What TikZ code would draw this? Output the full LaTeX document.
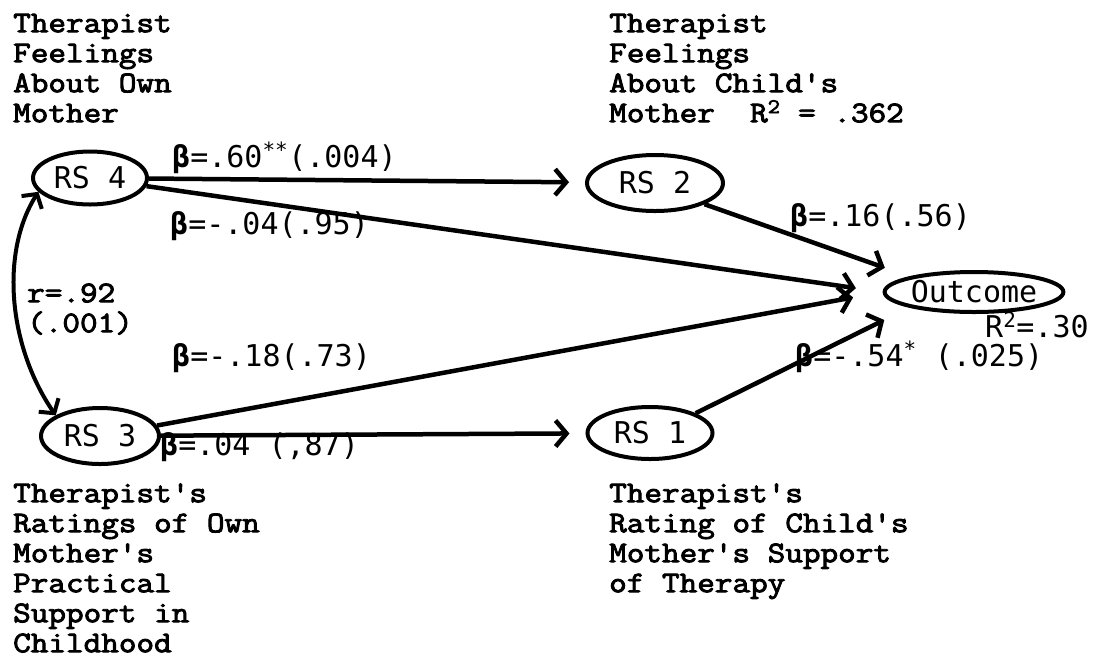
\documentclass[tikz,border=0pt]{standalone}
\usepackage{fontspec}
\setmainfont{DejaVu Sans Mono}
\newfontfamily\tw{Latin Modern Mono}[FakeStretch=1.14,FakeBold=3]
\newfontfamily\hw{DejaVu Sans Mono}
\usetikzlibrary{arrows.meta,shapes.geometric}
\newcommand\fst{\rule{0pt}{20pt}}
\newcommand\bb{{\bfseries β}}
\begin{document}
\begin{tikzpicture}[x=1pt,y=-1pt,
  typed/.style={font=\tw\fontsize{30}{30}\selectfont, inner sep=0pt, align=left, anchor=north west},
  hand/.style={font=\hw\fontsize{30}{30}\selectfont, inner sep=0pt, anchor=base west},
  var/.style={draw, ellipse, line width=4pt, inner sep=0pt, font=\hw\fontsize{30}{30}\selectfont},
  conn/.style={line width=4.5pt, -{Straight Barb[length=11pt,width=26pt]}},
  dconn/.style={line width=4pt, {Straight Barb[length=10pt,width=24pt]}-{Straight Barb[length=10pt,width=24pt]}}]
\useasboundingbox (0,0) rectangle (1097,657);

% variables
\node[var, minimum width=114pt, minimum height=53pt] (rs4) at (90,178) {RS 4};
\node[var, minimum width=118pt, minimum height=56pt] (rs3) at (100,436) {RS 3};
\node[var, minimum width=136pt, minimum height=56pt] (rs2) at (655,183) {RS 2};
\node[var, minimum width=125pt, minimum height=52pt] (rs1) at (650,433) {RS 1};
\node[var, minimum width=174pt, minimum height=40pt] (out) at (974,292) {Outcome};

% descriptive texts
\node[typed] (t4) at (13,12) {\fst Therapist\\Feelings\\About Own\\Mother};
\node[typed] (t2) at (609,12) {\fst Therapist\\Feelings\\About Child's\\Mother~ R\textsuperscript{2} = .362};
\node[typed] (t3) at (13,482) {\fst Therapist's\\Ratings of Own\\Mother's\\Practical\\Support in\\Childhood};
\node[typed] (t1) at (609,482) {\fst Therapist's\\Rating of Child's\\Mother's Support\\of Therapy};
\node[typed] (tr) at (27,282) {\fst r=.92\\(.001)};

% connectors
\draw[conn, shorten >=16pt] (rs4) -- (rs2);
\draw[conn, shorten >=27pt] (rs4) -- (out.west);
\draw[conn, shorten >=30pt] (rs3) -- (out.west);
\draw[conn, shorten >=16pt] (rs3) -- (rs1);
\draw[conn, shorten >=26pt] (rs2.south east) -- (out.north west);
\draw[conn, shorten >=28pt] (rs1.north east) -- (out.south west);
\draw[dconn] (rs4.195) .. controls +(-38,60) and +(-48,-70) .. (rs3.155);

% coefficients
\node[hand] (l1) at (172,167) {\bb=.60\textsuperscript{**}(.004)};
\node[hand] (l2) at (170,234) {\bb=-.04(.95)};
\node[hand] (l3) at (790,226) {\bb=.16(.56)};
\node[hand] (l4) at (172,366) {\bb=-.18(.73)};
\node[hand] (l5) at (160,455) {\bb=.04 (,87)};
\node[hand] (l6) at (795,366) {\bb=-.54\textsuperscript{*} (.025)};
\node[hand] (l7) at (985,337) {R\textsuperscript{2}=.30};
\end{tikzpicture}
\end{document}
